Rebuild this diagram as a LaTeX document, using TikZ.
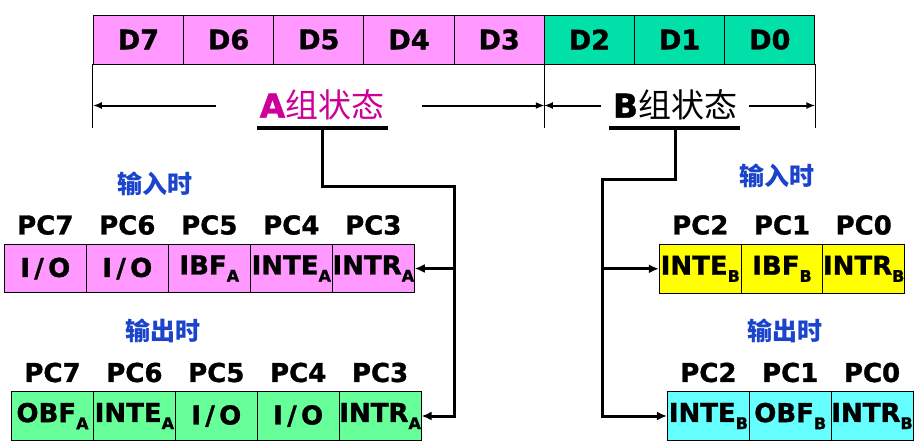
\documentclass[tikz,border=0pt]{standalone}
\usepackage{fontspec}
\setmainfont{DejaVu Sans}[BoldFeatures={FakeBold=1.2}]
\newfontfamily\cjk{Noto Sans CJK SC}
\usetikzlibrary{arrows.meta}
\definecolor{cpink}{HTML}{FF99FF}
\definecolor{cteal}{HTML}{00E0A8}
\definecolor{cgreen}{HTML}{66FF99}
\definecolor{cyellow}{HTML}{FFFF00}
\definecolor{ccyan}{HTML}{66FFFF}
\definecolor{cmag}{HTML}{CC0099}
\definecolor{cblue}{HTML}{1A44CC}
\newcommand{\lowsub}[1]{\raisebox{-0.5ex}{\fontsize{16}{16}\selectfont\bfseries #1}}
\begin{document}
\begin{tikzpicture}[x=1pt,y=-1pt,
  cell/.style={draw=black, line width=0.9pt, inner sep=0pt, minimum height=48.5pt, minimum width=82pt, font=\fontsize{26}{26}\selectfont\bfseries},
  dcell/.style={cell, minimum width=90.2pt, minimum height=49pt, font=\fontsize{27}{27}\selectfont\bfseries},
  pclab/.style={inner sep=0pt, font=\fontsize{26}{26}\selectfont\bfseries},
  modelab/.style={inner sep=0pt, text=cblue, font=\cjk\bfseries\fontsize{25}{25}\selectfont},
  title/.style={inner sep=0pt, font=\fontsize{33}{33}\selectfont},
  conn/.style={line width=3pt, -{Latex[length=10pt,width=9pt]}},
  uline/.style={line width=4pt},
  dim/.style={line width=2pt, -{Latex[length=9pt,width=7pt]}},
  guide/.style={line width=0.9pt}]
\useasboundingbox (0,0) rectangle (916,445);

% top register
\foreach \n [count=\i from 0] in {7,6,5,4,3}
  \node[dcell, fill=cpink] (d\n) at (138.4+90.2*\i, 39.5) {D\n};
\foreach \n [count=\i from 5] in {2,1,0}
  \node[dcell, fill=cteal] (d\n) at (138.4+90.2*\i, 39.5) {D\n};

% guides
\draw[guide] (d7.south west) -- ++(0,64);
\draw[guide] (d3.south east) -- ++(0,64);
\draw[guide] (d0.south east) -- ++(0,64);

% group titles
\node[title] (Alab) at (322,105) {\textcolor{cmag}{\bfseries A{\cjk\mdseries 组状态}}};
\node[title] (Blab) at (675,105) {\bfseries B{\cjk\mdseries 组状态}};

% dimension arrows
\coordinate (AdL) at (216,105.5);
\coordinate (AdR) at (422,105.5);
\coordinate (BdL) at (601,105.5);
\coordinate (BdR) at (749,105.5);
\draw[dim] (AdL) -- (AdL -| d7.south west);
\draw[dim] (AdR) -- (AdR -| d3.south east);
\draw[dim] (BdL) -- (BdL -| d2.south west);
\draw[dim] (BdR) -- (BdR -| d0.south east);

% underlines
\coordinate (AulL) at (257,128);
\coordinate (AulR) at (388,128);
\coordinate (Aul) at (322.5,128);
\coordinate (BulL) at (609,128);
\coordinate (BulR) at (740,128);
\coordinate (Bul) at (675.5,128);
\draw[uline] (AulL) -- (AulR);
\draw[uline] (BulL) -- (BulR);

% A input (PC7..PC3)
\node[modelab] (Ain) at (155,184) {输入时};
\foreach \n/\t [count=\i from 0] in {7/{I\,/\,O},6/{I\,/\,O},5/{IBF\lowsub{A}},4/{INTE\lowsub{A}},3/{INTR\lowsub{A}}} {
  \node[cell, fill=cpink] (ai\n) at (45.3+82*\i, 268.5) {\t};
  \node[pclab] (aip\n) at (45.3+82*\i, 225) {PC\n};
}
% A output
\node[modelab] (Aout) at (163,331) {输出时};
\foreach \n/\t [count=\i from 0] in {7/{OBF\lowsub{A}},6/{INTE\lowsub{A}},5/{I\,/\,O},4/{I\,/\,O},3/{INTR\lowsub{A}}} {
  \node[cell, fill=cgreen, minimum height=48.3pt] (ao\n) at (52.5+81.9*\i, 416) {\t};
  \node[pclab] (aop\n) at (52.5+81.9*\i, 372.5) {PC\n};
}

% B input
\node[modelab] (Bin) at (777,176) {输入时};
\foreach \n/\t [count=\i from 0] in {2/{INTE\lowsub{B}},1/{IBF\lowsub{B}},0/{INTR\lowsub{B}}} {
  \node[cell, fill=cyellow, minimum height=49pt] (bi\n) at (700.3+81.7*\i, 268.8) {\t};
  \node[pclab] (bip\n) at (700.3+81.7*\i, 225) {PC\n};
}
% B output
\node[modelab] (Bout) at (785,331) {输出时};
\foreach \n/\t [count=\i from 0] in {2/{INTE\lowsub{B}},1/{OBF\lowsub{B}},0/{INTR\lowsub{B}}} {
  \node[cell, fill=ccyan, minimum height=48.3pt] (bo\n) at (708.4+81.8*\i, 416) {\t};
  \node[pclab] (bop\n) at (708.4+81.8*\i, 372.5) {PC\n};
}

% connectors
\coordinate (Abus) at (454.5,186);
\coordinate (Bbus) at (602,179.5);
\draw[conn, line join=miter] (Aul) |- (Abus) |- (ao3.east);
\draw[conn] (Abus |- ai3.east) -- (ai3.east);
\draw[conn, line join=miter] (Bul) |- (Bbus) |- (bo2.west);
\draw[conn] (Bbus |- bi2.west) -- (bi2.west);
\end{tikzpicture}
\end{document}
